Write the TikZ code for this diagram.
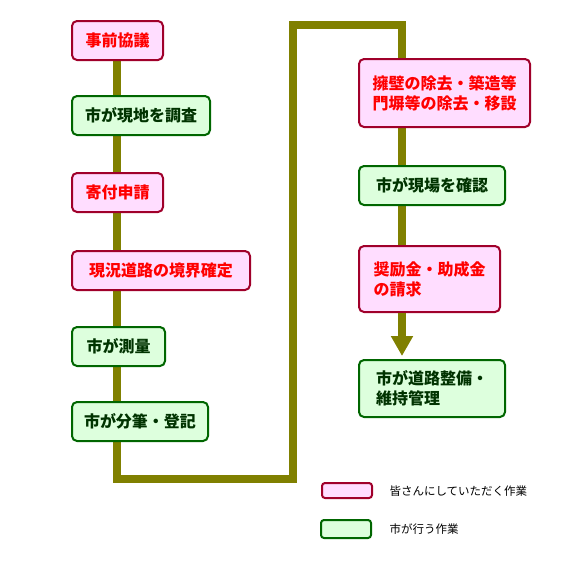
\documentclass[tikz,border=0pt]{standalone}
\usepackage{fontspec}
\usepackage{xcolor}
\newfontfamily\jpfont{Noto Sans CJK JP}
\usetikzlibrary{arrows.meta,backgrounds}
\definecolor{flowolive}{HTML}{808000}
\definecolor{pinkfill}{HTML}{FFDDFF}
\definecolor{pinkedge}{HTML}{A0002A}
\definecolor{greenfill}{HTML}{DDFFDD}
\definecolor{greenedge}{HTML}{006600}
\definecolor{greentext}{HTML}{003300}

\begin{document}
\begin{tikzpicture}[x=1pt,y=-1pt,
        box/.style={rectangle,rounded corners=5pt,line width=2pt,anchor=north west,
                    minimum height=39pt,inner xsep=12pt,align=left,
                    font=\jpfont\bfseries\fontsize{16}{20}\selectfont},
        citizen/.style={box,draw=pinkedge,fill=pinkfill,text=red},
        city/.style={box,draw=greenedge,fill=greenfill,text=greentext},
        flow/.style={draw=flowolive,line width=8pt},
        legbox/.style={rectangle,rounded corners=3pt,line width=2pt,anchor=north west,
                       minimum width=50pt,minimum height=15pt,inner sep=0pt},
        legtext/.style={anchor=west,font=\jpfont\fontsize{11.5}{13}\selectfont}]
      \useasboundingbox (0,0) rectangle (574,563);
      % left column
      \node[citizen,minimum width=91pt]  (kyogi)    at (71,20)  {事前協議};
      \node[city,minimum width=138pt]    (chosa)    at (71,95)  {市が現地を調査};
      \node[citizen,minimum width=91pt]  (shinsei)  at (71,172) {寄付申請};
      \node[citizen,minimum width=178pt] (kyokai)   at (71,250) {現況道路の境界確定};
      \node[city,minimum width=93pt]     (sokuryo)  at (71,326) {市が測量};
      \node[city,minimum width=136pt]    (bunpitsu) at (71,401) {市が分筆・登記};
      % right column
      \node[citizen,minimum width=171pt,minimum height=68pt] (yoheki) at (358,58)
            {擁壁の除去・築造等\\門塀等の除去・移設};
      \node[city,minimum width=146pt]    (kakunin) at (358,165) {市が現場を確認};
      \node[citizen,minimum width=141pt,minimum height=66pt] (seikyu) at (358,245)
            {奨励金・助成金\\の請求};
      \node[city,minimum width=146pt,minimum height=57pt] (seibi) at (358,359)
            {市が道路整備・\\維持管理};
      % flow line
      \coordinate (c1) at (117,479);
      \coordinate (c2) at (293,479);
      \coordinate (c3) at (293,25);
      \coordinate (c4) at (402,25);
      \begin{scope}[on background layer]
        \draw[flow] (c1 |- kyogi.south) -- (c1) -- (c2) -- (c3) -- (c4)
                    -- (c4 |- seikyu.north);
      \end{scope}
      \draw[flow,-{Triangle[length=20pt,width=21pt]},shorten >=3pt]
            (c4 |- seikyu.south) -- (c4 |- seibi.north);
      % legend
      \node[legbox,draw=pinkedge,fill=pinkfill]   (legpink)  at (321,482) {};
      \node[legbox,draw=greenedge,fill=greenfill,minimum height=18pt] (leggreen) at (320,519) {};
      \node[legtext] (legpinktxt)  at (386,491) {皆さんにしていただく作業};
      \node[legtext] (leggreentxt) at (386,529) {市が行う作業};
    \end{tikzpicture}
\end{document}
